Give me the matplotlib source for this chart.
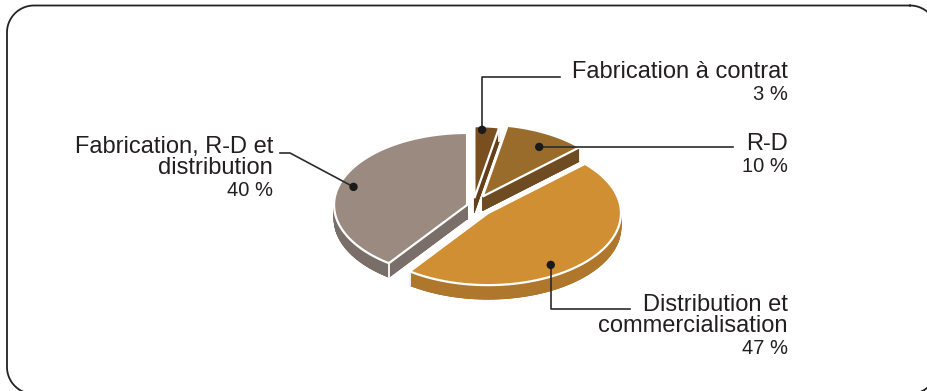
import numpy as np
import matplotlib
matplotlib.use("Agg")
import matplotlib.pyplot as plt
from matplotlib.patches import Polygon, Circle

# share of companies by business model
labels = ["Fabrication à contrat", "R-D", "Distribution et\ncommercialisation",
          "Fabrication, R-D et\ndistribution"]
shares = [3, 10, 47, 40]
top_colors = ["#7a4f20", "#9a6c2c", "#d08f33", "#9a8a80"]
side_colors = ["#634019", "#6e4b20", "#ae772c", "#7a6e69"]

# pie geometry (pixel units, y pointing down)
cx, cy = 473, 206
ra, rb = 133, 72
depth = 14
explode = [0.11, 0.15, 0.15, 0.047]

# where each leader line touches its slice: (angle, radius fraction)
anchors = [(3.5, 0.95), (31.7, 0.81), (146.7, 0.86), (286.4, 0.89)]

TEXT = "#231f20"
LINE = "#2b2b2b"
plt.rcParams["font.family"] = ["Liberation Sans", "DejaVu Sans"]


def proj(theta, r=1.0):
    t = np.radians(theta)
    return np.array([ra * r * np.sin(t), -rb * r * np.cos(t)])


def rounded_frame(x0, y0, x1, y1, r):
    # outline of a rounded rectangle as a closed list of points
    corners = [(x1 - r, y0 + r, -90, 0), (x1 - r, y1 - r, 0, 90),
               (x0 + r, y1 - r, 90, 180), (x0 + r, y0 + r, 180, 270)]
    xs, ys = [], []
    for ccx, ccy, a0, a1 in corners:
        t = np.radians(np.linspace(a0, a1, 30))
        xs.extend(ccx + r * np.cos(t))
        ys.extend(ccy + r * np.sin(t))
    xs.append(xs[0])
    ys.append(ys[0])
    return xs, ys


fig = plt.figure(figsize=(9.28, 3.91), dpi=100)
ax = fig.add_axes([0, 0, 1, 1])
ax.set_xlim(0, 928)
ax.set_ylim(391, 0)
ax.axis("off")

fx, fy = rounded_frame(7, 5.5, 937, 394, 27)
ax.plot(fx, fy, color="#222222", lw=1.3, zorder=1)

bounds = np.concatenate([[0], np.cumsum(shares)]) / sum(shares) * 360
dots = []
for i, v in enumerate(shares):
    t0, t1 = bounds[i], bounds[i + 1]
    mid = (t0 + t1) / 2
    apex = np.array([cx, cy]) + proj(mid, explode[i])
    arc = np.array([apex + proj(t) for t in np.linspace(t0, t1, 80)])
    pts = np.vstack([apex, arc])
    down = np.array([0, depth])
    z = 2 + i * 3

    # extruded side: bottom face plus a quad for every edge
    ax.add_patch(Polygon(pts + down, closed=True, fc=side_colors[i], ec=side_colors[i], lw=0.6, zorder=z))
    for p, q in zip(pts, np.roll(pts, -1, axis=0)):
        quad = np.array([p, q, q + down, p + down])
        ax.add_patch(Polygon(quad, closed=True, fc=side_colors[i], ec=side_colors[i], lw=0.6, zorder=z))
    for p in (arc[0], arc[-1]):
        ax.plot([p[0], p[0]], [p[1], p[1] + depth], color="white", lw=1.3, zorder=z + 0.5)

    # top face
    ax.add_patch(Polygon(pts, closed=True, fc=top_colors[i], ec="white", lw=1.6, zorder=z + 1))

    ang, frac = anchors[i]
    dots.append(apex + proj(ang, frac))

for x, y in dots:
    ax.add_patch(Circle((x, y), 4.2, fc="#1a1a1a", ec="none", zorder=20))

# leader lines
(x0, y0), (x1, y1), (x2, y2), (x3, y3) = dots
lw = 1.2
ax.plot([x0, x0, 560], [y0, 77, 77], color=LINE, lw=lw, zorder=19)
ax.plot([x1, 733], [y1, y1], color=LINE, lw=lw, zorder=19)
ax.plot([x2, x2, 630], [y2, 309, 309], color=LINE, lw=lw, zorder=19)
ax.plot([x3, 290, 280], [y3, 153, 153], color=LINE, lw=lw, zorder=19)

# labels: (right edge, baseline of first line)
label_pos = [(788, 78), (788, 150), (788, 311), (273, 153)]
step = 21.5
for (lx, ly), lab, v in zip(label_pos, labels, shares):
    lines = lab.split("\n")
    for k, line in enumerate(lines):
        ax.text(lx, ly + k * step, line, ha="right", va="baseline", fontsize=17, color=TEXT)
    ax.text(lx, ly + len(lines) * step, f"{v} %", ha="right", va="baseline", fontsize=14.5, color=TEXT)

fig.savefig("out.png", dpi=100)
